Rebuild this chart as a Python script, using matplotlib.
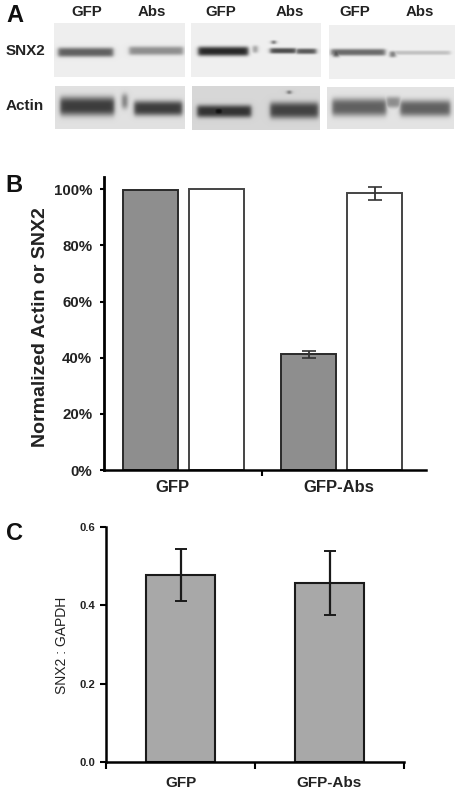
import numpy as np
import matplotlib
matplotlib.use("Agg")
import matplotlib.pyplot as plt

plt.rcParams['font.family'] = ['Liberation Sans', 'DejaVu Sans']

W, H = 462, 795

# Panel B data
b_groups = ["GFP", "GFP-Abs"]
b_snx2 = [99.8, 41.2]
b_snx2_err = [0, 1.15]
b_actin = [100.0, 98.6]
b_actin_err = [0, 2.4]
b_ticks = [0, 20, 40, 60, 80, 100]
b_ticklabels = ["0%", "20%", "40%", "60%", "80%", "100%"]

# Panel C data
c_groups = ["GFP", "GFP-Abs"]
c_ratio = [0.478, 0.458]
c_err = [0.066, 0.082]
c_ticks = [0.0, 0.2, 0.4, 0.6]

# Panel A: membranes (x0, x1, y0, y1, background grey) and bands (x0, x1, yc, height, grey)
membranes = [
    (54, 185, 23, 77, 0.93, [(58, 113, 52, 7.5, 0.38), (129, 183, 50.5, 7, 0.56)]),
    (191, 321, 23, 77, 0.94, [(198, 248, 51, 7.5, 0.16), (270, 296, 50.5, 4.5, 0.3), (296, 316, 51, 4.5, 0.35),
                              (272, 275, 42, 3, 0.25), (253, 257, 49, 6, 0.55)]),
    (329, 455, 25, 79, 0.94, [(331, 385, 52, 5.5, 0.42), (333, 339, 53, 6, 0.25), (391, 450, 52.5, 3.5, 0.76),
                              (390, 395, 54, 5, 0.4)]),
    (55, 185, 86, 129, 0.88, [(60, 114, 106, 15, 0.24), (134, 182, 108, 12, 0.24), (122, 127, 101, 12, 0.45)]),
    (192, 320, 86, 130, 0.84, [(197, 251, 111, 10, 0.2), (213, 224, 111, 7, 0.05), (270, 318, 110, 13, 0.26),
                               (288, 290, 92, 3, 0.15)]),
    (327, 454, 87, 129, 0.89, [(332, 386, 107, 14, 0.38), (400, 450, 108, 13, 0.38), (386, 400, 102, 9, 0.55)]),
]
lane_labels = ["GFP", "Abs", "GFP", "Abs", "GFP", "Abs"]
lane_x = [87, 152, 221, 290, 355, 420]
row_labels = ["SNX2", "Actin"]
row_y = [51, 106]


def px_axes(x0, y_top, x1, y_bot):
    return fig.add_axes([x0 / W, 1 - y_bot / H, (x1 - x0) / W, (y_bot - y_top) / H])


fig = plt.figure(figsize=(W / 100, H / 100), dpi=100)

# ---- Panel A ----
ov = fig.add_axes([0, 0, 1, 1])
ov.set_xlim(0, W)
ov.set_ylim(H, 0)
ov.axis("off")
for x0, x1, y0, y1, bg, bands in membranes:
    xs = np.arange(x0, x1, 0.5)
    ys = np.arange(y0, y1, 0.5)
    X, Y = np.meshgrid(xs, ys)
    img = np.full(X.shape, bg)
    for bx0, bx1, yc, h, g in bands:
        edge = 1 / (1 + np.exp(-(X - bx0) / 1.2)) * 1 / (1 + np.exp((X - bx1) / 1.2))
        prof = np.exp(-np.abs((Y - yc) / (h / 1.6)) ** 3)
        img = np.minimum(img, bg - (bg - g) * edge * prof)
    ov.imshow(img, extent=(x0, x1, y1, y0), cmap="gray", vmin=0, vmax=1,
              aspect="auto", interpolation="bilinear")
ov.set_xlim(0, W)
ov.set_ylim(H, 0)
for x, s in zip(lane_x, lane_labels):
    ov.text(x, 12, s, ha="center", va="center", fontsize=10.8, fontweight="bold", color="#222222")
for y, s in zip(row_y, row_labels):
    ov.text(6, y, s, ha="left", va="center", fontsize=11, fontweight="bold", color="#222222")
ov.text(6, 16, "A", ha="left", va="center", fontsize=17, fontweight="bold", color="#111111")
ov.text(5, 185, "B", ha="left", va="center", fontsize=17, fontweight="bold", color="#111111")
ov.text(6, 533, "C", ha="left", va="center", fontsize=17, fontweight="bold", color="#111111")

# ---- Panel B ----
axb = px_axes(104, 177, 425.7, 470)
axb.patch.set_alpha(0)
pos = np.arange(len(b_groups))
off, bw = 0.208, 0.347
axb.bar(pos - off, b_snx2, bw, color="#8e8e8e", edgecolor="#2a2a2a", linewidth=1.4)
axb.bar(pos + off, b_actin, bw, color="white", edgecolor="#444444", linewidth=1.4)
ekw = dict(fmt="none", ecolor="#333333", elinewidth=1.3, capsize=5, capthick=1.2)
axb.errorbar(pos[1:] - off, b_snx2[1:], yerr=b_snx2_err[1:], **ekw)
axb.errorbar(pos[1:] + off, b_actin[1:], yerr=b_actin_err[1:], **ekw)
axb.set_xlim(-0.5, 1.53)
axb.set_ylim(0, 104.4)
axb.set_yticks(b_ticks)
axb.set_yticklabels(b_ticklabels, fontsize=10.8, fontweight="bold", color="#222222")
axb.set_xticks([0.5])
axb.set_xticklabels([""])
axb.tick_params(axis="y", length=3, width=1.5, pad=5.5)
axb.tick_params(axis="x", length=4, width=1.5, pad=3)
for s in ("top", "right"):
    axb.spines[s].set_visible(False)
axb.spines["left"].set_linewidth(2)
axb.spines["bottom"].set_linewidth(1.8)
axb.set_ylabel("Normalized Actin or SNX2", fontsize=14, fontweight="bold", color="#222222")
axb.yaxis.set_label_coords((49 - 104) / 321.7, (470 - 327.5) / 293)
for i, s in enumerate(b_groups):
    ov.text(172 if i == 0 else 339, 488, s, ha="center", va="center",
            fontsize=12, fontweight="bold", color="#222222")

# ---- Panel C ----
axc = px_axes(106, 527.3, 404, 761.7)
axc.patch.set_alpha(0)
pos = np.arange(len(c_groups))
axc.bar(pos, c_ratio, 0.457, color="#a8a8a8", edgecolor="#1a1a1a", linewidth=1.5)
axc.errorbar(pos, c_ratio, yerr=c_err, fmt="none", ecolor="#1a1a1a", elinewidth=1.6, capsize=4, capthick=1.4)
axc.set_xlim(-0.5, 1.5)
axc.set_ylim(0, 0.6)
axc.set_yticks(c_ticks)
axc.set_yticklabels([f"{t:.1f}" for t in c_ticks], fontsize=8.1, fontweight="bold", color="#222222")
axc.set_xticks([-0.5, 0.5, 1.5])
axc.set_xticklabels(["", "", ""])
axc.tick_params(axis="y", length=4, width=1.5, pad=3.5)
axc.tick_params(axis="x", length=5, width=1.5)
for s in ("top", "right"):
    axc.spines[s].set_visible(False)
axc.spines["left"].set_linewidth(1.8)
axc.spines["bottom"].set_linewidth(1.8)
axc.set_ylabel("SNX2 : GAPDH", fontsize=10, color="#222222")
axc.yaxis.set_label_coords((69 - 106) / 298, (761.7 - 645) / 234.4)
for i, s in enumerate(c_groups):
    ov.text(181 if i == 0 else 329, 783, s, ha="center", va="center",
            fontsize=11, fontweight="bold", color="#222222")

fig.savefig("out.png", dpi=100)
